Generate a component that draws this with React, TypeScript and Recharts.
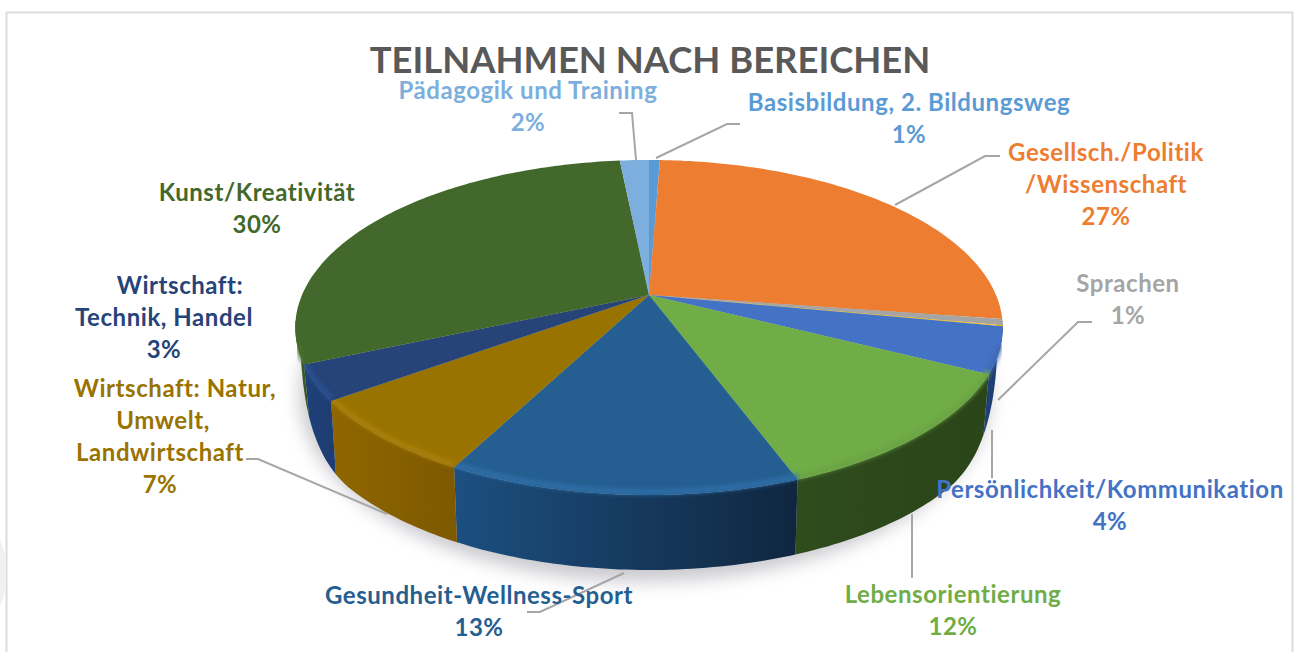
import * as React from 'react';
import { PieChart, Pie } from 'recharts';

// slices clockwise from 12 o'clock
const categories = [
  'Basisbildung, 2. Bildungsweg',
  'Gesellsch./Politik/Wissenschaft',
  'Sprachen',
  'Sonstige',
  'Persönlichkeit/Kommunikation',
  'Lebensorientierung',
  'Gesundheit-Wellness-Sport',
  'Wirtschaft: Natur, Umwelt, Landwirtschaft',
  'Wirtschaft: Technik, Handel',
  'Kunst/Kreativität',
  'Pädagogik und Training',
];
const shares = [0.6, 26.7, 0.6, 0.1, 4.4, 11.9, 13.4, 7.4, 3.4, 29.9, 1.6];

const topColors = ['#5b9bd5', '#ed7d31', '#a5a5a5', '#ffc000', '#4472c4', '#70ad47', '#255e91', '#997300', '#264478', '#43682b', '#7cafdd'];
const lipColors = ['#5b9bd5', '#ed7d31', '#a5a5a5', '#ffc000', '#3f69b5', '#6aa344', '#2f6fa8', '#ab8008', '#2a5090', '#47702f', '#7cafdd'];
const wallLeft = ['#3a6a96', '#a85820', '#777777', '#b08500', '#1f3f78', '#2f4c1d', '#1c4f80', '#8f6600', '#1f4179', '#3d5f27', '#5a82a8'];
const wallRight = ['#3a6a96', '#a85820', '#777777', '#b08500', '#1c3766', '#2a4519', '#10263f', '#7d5900', '#1e3d72', '#3a5925', '#5a82a8'];

// label text lines per slice (null = unlabelled)
const labelLines: (string[] | null)[] = [
  ['Basisbildung, 2. Bildungsweg'],
  ['Gesellsch./Politik', '/Wissenschaft'],
  ['Sprachen'],
  null,
  ['Persönlichkeit/Kommunikation'],
  ['Lebensorientierung'],
  ['Gesundheit-Wellness-Sport'],
  ['Wirtschaft: Natur,', 'Umwelt,', 'Landwirtschaft'],
  ['Wirtschaft:', 'Technik, Handel'],
  ['Kunst/Kreativität'],
  ['Pädagogik und Training'],
];
const labelAnchors: ([number, number] | null)[] = [
  [909, 111], [1106, 161], [1128, 292], null, [1110, 498], [953, 603], [479, 604], [175, 397], [164, 294], [257, 201], [528, 99],
];
// the original's multi-line labels are not all centred on one axis
const lineShift: Record<number, number[]> = { 7: [0, -12, -15, -15], 8: [16, 0, 0] };
const labelColors = ['#5b9bd5', '#ed7d31', '#a5a5a5', '#ffc000', '#4472c4', '#70ad47', '#255e91', '#997300', '#264478', '#43682b', '#7cafdd'];
const leaders = [
  '740,124 727,124 656,158',
  '1000,156 985,156 895,205',
  '1092,322 1078,322 998,400',
  '',
  '992,430 992,478',
  '912,514 912,578',
  '624,573 540,612 527,612',
  '246,459 258,459 387,514',
  '',
  '',
  '619,113 632,113 636,160',
];

const data = categories.map((name, i) => ({ name, value: shares[i], fill: topColors[i] }));

// perspective of the tilted disc
const P = 0.194;
const TILT = 161.2;
const WALL = 75;
const FONT = 'Lato, sans-serif';

function project(cx: number, cy: number, r: number, deg: number) {
  // deg = clockwise from top
  const a = (deg * Math.PI) / 180;
  const u = Math.sin(a);
  const v = Math.cos(a);
  const w = 1 + P * v;
  return { x: cx + (r * u) / w, y: cy - (TILT * v) / w, v };
}

function wallDepth(v: number) {
  const t = Math.max(0, Math.min(1, (-v - 0.15) / 0.5));
  return WALL * Math.sin((t * Math.PI) / 2);
}

function arcPoints(cx: number, cy: number, r: number, from: number, to: number) {
  const pts = [];
  const n = Math.max(2, Math.ceil((to - from) / 1));
  for (let i = 0; i <= n; i++) pts.push(project(cx, cy, r, from + ((to - from) * i) / n));
  return pts;
}

function DiscSlice(props: any) {
  const { cx, cy, outerRadius, startAngle, endAngle, index, fill } = props;
  const from = 90 - startAngle;
  const to = 90 - endAngle;
  const i = index ?? topColors.indexOf(fill);
  const rim = arcPoints(cx, cy, outerRadius, from, to);
  const top = `M${cx},${cy} ` + rim.map((p) => `L${p.x.toFixed(1)},${p.y.toFixed(1)}`).join(' ') + ' Z';

  const wFrom = Math.max(from, 99);
  const wTo = Math.min(to, 261);
  let wall = null;
  if (wTo > wFrom) {
    const front = arcPoints(cx, cy, outerRadius, wFrom, wTo);
    const lower = front.map((p) => ({ x: cx + (p.x - cx) * 0.985, y: p.y + wallDepth(p.v) })).reverse();
    const d = [...front, ...lower].map((p, k) => `${k ? 'L' : 'M'}${p.x.toFixed(1)},${p.y.toFixed(1)}`).join(' ') + ' Z';
    const xs = front.map((p) => p.x);
    // highlight only where the wall is tall enough, it would poke out at the sides
    const lip = front
      .filter((p) => p.v < -0.3)
      .map((p, k) => `${k ? 'L' : 'M'}${p.x.toFixed(1)},${(p.y - 3).toFixed(1)}`)
      .join(' ');
    const id = `wall-${i}`;
    wall = (
      <g>
        <defs>
          <linearGradient id={id} gradientUnits="userSpaceOnUse" x1={Math.min(...xs)} x2={Math.max(...xs)} y1={0} y2={0}>
            <stop offset="0%" stopColor={wallLeft[i]} />
            <stop offset="100%" stopColor={wallRight[i]} />
          </linearGradient>
        </defs>
        <path d={d} fill={`url(#${id})`} />
        <path d={top} fill={topColors[i]} />
        {lip && <path d={lip} fill="none" stroke={lipColors[i]} strokeWidth={5} filter="url(#lipBlur)" />}
      </g>
    );
  }
  return wall ?? <path d={top} fill={topColors[i]} />;
}

function SliceLabel(props: any) {
  const { index, percent } = props;
  const lines = labelLines[index];
  const at = labelAnchors[index];
  if (!lines || !at) return null;
  const all = [...lines, `${Math.round(percent * 100)}%`];
  const shift = lineShift[index] ?? [];
  return (
    <g>
      {leaders[index] && <polyline points={leaders[index]} fill="none" stroke="#a6a6a6" strokeWidth={2} />}
      <text x={at[0]} y={at[1]} textAnchor="middle" fontFamily={FONT} fontWeight={700} fontSize={24} letterSpacing={0.55} fill={labelColors[index]}>
        {all.map((t, k) => (
          <tspan key={k} x={at[0] + (shift[k] ?? 0)} dy={k ? 32 : 0}>{t}</tspan>
        ))}
      </text>
    </g>
  );
}

export default function App() {
  return (
    <div style={{ position: 'absolute', left: 0, top: 0, width: 1298, height: 652, background: '#fff' }}>
      <PieChart width={1298} height={652} margin={{ top: 0, right: 0, bottom: 0, left: 0 }}>
        <defs>
          <filter id="lipBlur" x="-10%" y="-50%" width="120%" height="200%">
            <feGaussianBlur stdDeviation="2" />
          </filter>
          <filter id="dropBlur" x="-10%" y="-20%" width="120%" height="140%">
            <feGaussianBlur stdDeviation="9" />
          </filter>
        </defs>
        <path d="M6.5,652 V12.5 H1292.5 V652" fill="none" stroke="#dcdcdc" strokeWidth={2} />
        <path d="M0,540 L6,556 L6,590 L0,606 Z" fill="#eef0f4" />
        <ellipse cx={645} cy={395} rx={345} ry={186} fill="#9a9aa4" opacity={0.55} filter="url(#dropBlur)" />
        <text x={650} y={73} textAnchor="middle" fontFamily={FONT} fontWeight={700} fontSize={36.4} fill="#595959">
          TEILNAHMEN NACH BEREICHEN
        </text>
        <Pie
          data={data}
          dataKey="value"
          nameKey="name"
          cx={649}
          cy={295}
          outerRadius={347}
          startAngle={90}
          endAngle={-270}
          stroke="none"
          isAnimationActive={false}
          shape={DiscSlice}
          label={SliceLabel}
          labelLine={false}
        />
      </PieChart>
    </div>
  );
}
